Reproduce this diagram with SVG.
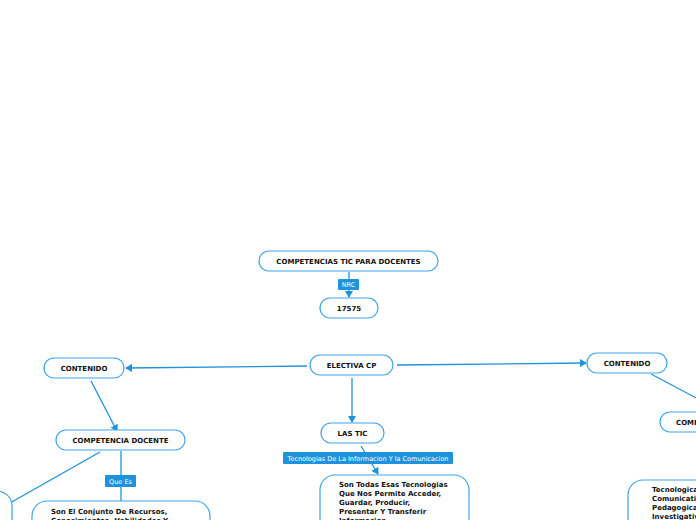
<svg xmlns="http://www.w3.org/2000/svg" width="696" height="520" viewBox="0 0 696 520">
<defs>
<marker id="ah" markerWidth="8" markerHeight="8" refX="6" refY="4" orient="auto" markerUnits="userSpaceOnUse">
<path d="M0,0 L7,4 L0,8 Z" fill="#1f92dc"/>
</marker>
<style>
.n{fill:#fff;stroke:#3fa3e8;stroke-width:1.2}
.t{font-family:"DejaVu Sans",Verdana,sans-serif;font-weight:bold;font-size:7px;fill:#111}
.c{stroke:#1f92dc;stroke-width:1.3;fill:none}
.lb{fill:#1f92dc}
.lt{font-family:"DejaVu Sans",Verdana,sans-serif;font-size:6.5px;fill:#fff}
</style>
</defs>
<rect width="696" height="520" fill="#fff"/>
<g id="connectors">
<line class="c" x1="349" y1="272" x2="349" y2="297" marker-end="url(#ah)"/>
<line class="c" x1="307" y1="366" x2="126" y2="368" marker-end="url(#ah)"/>
<line class="c" x1="397" y1="365" x2="586" y2="363" marker-end="url(#ah)"/>
<line class="c" x1="352" y1="378" x2="352" y2="422" marker-end="url(#ah)"/>
<line class="c" x1="361" y1="446" x2="378" y2="474" marker-end="url(#ah)"/>
<line class="c" x1="91" y1="381" x2="117" y2="431" marker-end="url(#ah)"/>
<line class="c" x1="100" y1="452" x2="10" y2="503"/>
<line class="c" x1="121" y1="451" x2="121" y2="501"/>
<line class="c" x1="651" y1="374" x2="700" y2="400"/>
</g>
<g id="lbl-nrc"><rect class="lb" x="338" y="279" width="21" height="11" rx="1"/><text class="lt" x="348.5" y="287" text-anchor="middle">NRC</text></g>
<g id="lbl-tic"><rect class="lb" x="283" y="452" width="170" height="12" rx="1"/><text class="lt" x="368" y="460.5" text-anchor="middle">Tecnologias De La Informacion Y la Comunicacion</text></g>
<g id="lbl-quees"><rect class="lb" x="105" y="475" width="31" height="12" rx="1"/><text class="lt" x="120.5" y="483.5" text-anchor="middle">Que Es</text></g>
<g id="n-comp"><rect class="n" x="259" y="251" width="179" height="20" rx="10"/><text class="t" x="348.5" y="264" text-anchor="middle">COMPETENCIAS TIC PARA DOCENTES</text></g>
<g id="n-17575"><rect class="n" x="320" y="298" width="58" height="20" rx="10"/><text class="t" x="349" y="311" text-anchor="middle">17575</text></g>
<g id="n-electiva"><rect class="n" x="310" y="355" width="83" height="20" rx="10"/><text class="t" x="351.5" y="368" text-anchor="middle">ELECTIVA CP</text></g>
<g id="n-cont-l"><rect class="n" x="44" y="358" width="80" height="20" rx="10"/><text class="t" x="84" y="371" text-anchor="middle">CONTENIDO</text></g>
<g id="n-cont-r"><rect class="n" x="587" y="353" width="80" height="20" rx="10"/><text class="t" x="627" y="366" text-anchor="middle">CONTENIDO</text></g>
<g id="n-lastic"><rect class="n" x="321" y="423" width="63" height="20" rx="10"/><text class="t" x="352.5" y="436" text-anchor="middle">LAS TIC</text></g>
<g id="n-compdoc"><rect class="n" x="56" y="430" width="129" height="20" rx="10"/><text class="t" x="120.5" y="443" text-anchor="middle">COMPETENCIA DOCENTE</text></g>
<g id="n-com-r"><rect class="n" x="660" y="412" width="60" height="20" rx="10"/><text class="t" x="676" y="425">COMPETENCIA</text></g>
<g id="n-left"><rect class="n" x="-40" y="491" width="52" height="60" rx="15"/></g>
<g id="n-sontodas"><rect class="n" x="320" y="475" width="149" height="60" rx="15"/><text class="t"><tspan x="339" y="487">Son Todas Esas Tecnologias</tspan><tspan x="339" y="496">Que Nos Permite Acceder,</tspan><tspan x="339" y="505">Guardar, Producir,</tspan><tspan x="339" y="514">Presentar Y Transferir</tspan><tspan x="339" y="523">Informacion.</tspan></text></g>
<g id="n-sonel"><rect class="n" x="32" y="501" width="178" height="40" rx="15"/><text class="t"><tspan x="51" y="514">Son El Conjunto De Recursos,</tspan><tspan x="51" y="523">Conocimientos, Habilidades Y</tspan></text></g>
<g id="n-tecno"><rect class="n" x="628" y="480" width="90" height="60" rx="15"/><text class="t"><tspan x="652" y="492">Tecnologicas</tspan><tspan x="652" y="501">Comunicativas</tspan><tspan x="652" y="510">Pedagogicas</tspan><tspan x="652" y="519">Investigativas</tspan></text></g>
</svg>
